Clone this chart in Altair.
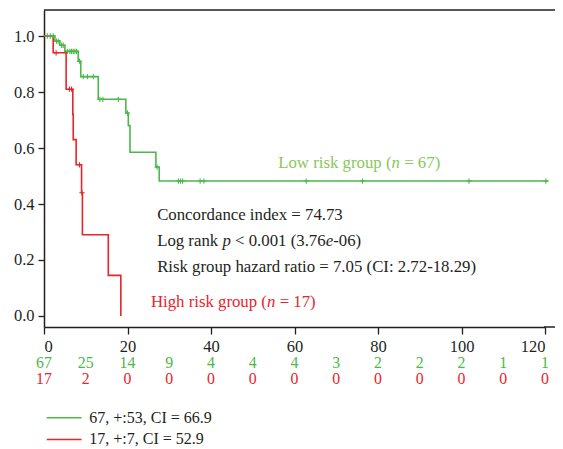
import altair as alt
import pandas as pd

# ---------------- data ----------------
# Kaplan-Meier step points: low risk group (green)
low_time = [0, 2.6, 3.8, 5.0, 8.2, 8.8, 13.0, 19.6, 20.2, 20.6, 26.8, 27.6, 120.8]
low_surv = [1.0, 0.982, 0.967, 0.945, 0.91, 0.855, 0.774, 0.725, 0.68, 0.585, 0.532, 0.482, 0.482]
# high risk group (red)
high_time = [0, 2.2, 5.3, 6.9, 7.0, 7.7, 9.0, 9.2, 15.4, 18.4]
high_surv = [1.0, 0.94, 0.81, 0.72, 0.63, 0.54, 0.44, 0.29, 0.145, 0.0]

# censoring marks (+)
low_cens_time = [0.8, 1.5, 2.2, 3.0, 3.4, 4.2, 4.6, 5.6, 6.2, 6.6, 7.0, 7.4, 7.8, 8.5,
                 9.4, 10.4, 11.8, 13.4, 14.1, 17.8, 20.0, 27.1,
                 32.2, 32.7, 33.2, 37.4, 38.3, 62.8, 76.3, 101.8, 120.2]
low_cens_surv = [1.0, 1.0, 1.0, 0.982, 0.982, 0.967, 0.967, 0.945, 0.945, 0.945, 0.945, 0.945, 0.945, 0.91,
                 0.855, 0.855, 0.855, 0.774, 0.774, 0.774, 0.725, 0.532,
                 0.482, 0.482, 0.482, 0.482, 0.482, 0.482, 0.482, 0.482, 0.482]
high_cens_time = [2.9, 6.1, 6.6, 8.5, 9.1]
high_cens_surv = [0.94, 0.81, 0.81, 0.54, 0.44]

# numbers at risk
risk_times = [0, 10, 20, 30, 40, 50, 60, 70, 80, 90, 100, 110, 120]
low_at_risk = [67, 25, 14, 9, 4, 4, 4, 3, 2, 2, 2, 1, 1]
high_at_risk = [17, 2, 0, 0, 0, 0, 0, 0, 0, 0, 0, 0, 0]

x_ticks = [0, 20, 40, 60, 80, 100, 120]
y_ticks = [0.0, 0.2, 0.4, 0.6, 0.8, 1.0]

legend_labels = ["67, +:53, CI = 66.9", "17, +:7, CI = 52.9"]
stats_lines = ["Concordance index = 74.73", "Risk group hazard ratio = 7.05 (CI: 2.72-18.29)"]

# ---------------- styling ----------------
GREEN = "#4cb848"
LIGHT_GREEN = "#88c85a"
RED = "#e9242b"
INK = "#231f20"
FONT = "Liberation Serif"
FS = 16.8

W, H = 501, 317
EXT = 10  # frame lines run a little past the last tick
PX_PER_UNIT = 4.175
x_scale = alt.Scale(domain=[0, W / PX_PER_UNIT], nice=False, zero=False)
y_scale = alt.Scale(domain=[-0.0393, 1.0929], nice=False, zero=False)

curves = pd.DataFrame({
    "t": low_time + high_time,
    "s": low_surv + high_surv,
    "g": ["low"] * len(low_time) + ["high"] * len(high_time),
})
cens = pd.DataFrame({
    "t": low_cens_time + high_cens_time,
    "s": low_cens_surv + high_cens_surv,
    "g": ["low"] * len(low_cens_time) + ["high"] * len(high_cens_time),
})
color = alt.Color("g:N", scale=alt.Scale(domain=["low", "high"], range=[GREEN, RED]), legend=None)

base = alt.Chart(curves)

lines = base.mark_line(interpolate="step-after", strokeWidth=1.6).encode(
    x=alt.X("t:Q", scale=x_scale,
            axis=alt.Axis(title=None, values=x_ticks, grid=False, tickSize=7, labelPadding=4,
                          domainColor=INK, tickColor=INK, labelColor=INK, domainWidth=1.5,
                          tickWidth=1.3, labelFont=FONT, labelFontSize=16.5)),
    y=alt.Y("s:Q", scale=y_scale,
            axis=alt.Axis(title=None, values=y_ticks, format=".1f", grid=False, tickSize=6,
                          labelPadding=4, domainColor=INK, tickColor=INK, labelColor=INK,
                          domainWidth=1.5, tickWidth=1.3, labelFont=FONT, labelFontSize=16.5)),
    color=color,
    detail="g:N",
)

marks = alt.Chart(cens).mark_point(shape="M-1,0H1M0,-1V1", filled=False, size=28, strokeWidth=1.1,
                                   opacity=1).encode(
    x=alt.X("t:Q", scale=x_scale), y=alt.Y("s:Q", scale=y_scale), color=color)

frame_src = pd.DataFrame({"a": [0]})
top_border = alt.Chart(frame_src).mark_rule(color=INK, strokeWidth=1.5).encode(
    x=alt.value(0), x2=alt.value(W + EXT), y=alt.value(0))
bottom_ext = alt.Chart(frame_src).mark_rule(color=INK, strokeWidth=1.5).encode(
    x=alt.value(W - 1), x2=alt.value(W + EXT), y=alt.value(H))


def seg(text, t, s, dx=0, italic=False, col=INK, size=FS):
    return alt.Chart(pd.DataFrame({"t": [t], "s": [s], "txt": [text]})).mark_text(
        align="left", baseline="middle", dx=dx, font=FONT, fontSize=size, color=col,
        fontStyle="italic" if italic else "normal").encode(
        x=alt.X("t:Q", scale=x_scale), y=alt.Y("s:Q", scale=y_scale), text="txt:N")


k = FS / 1000.0
SP = 250  # width of a space (em/1000); leading spaces are dropped by SVG
annots = [
    # Low risk group (n = 67)
    seg("Low risk group (", 56.1, 0.546, 0, False, LIGHT_GREEN),
    seg("n", 56.1, 0.546, 6749 * k, True, LIGHT_GREEN),
    seg("= 67)", 56.1, 0.546, (7249 + SP) * k, False, LIGHT_GREEN),
    # stats
    seg(stats_lines[0], 27.1, 0.361),
    seg("Log rank", 27.1, 0.269, 0),
    seg("p", 27.1, 0.269, 3888 * k, True),
    seg("< 0.001 (3.76", 27.1, 0.269, (4388 + SP) * k),
    seg("e", 27.1, 0.269, 10035 * k, True),
    seg("-06)", 27.1, 0.269, 10479 * k),
    seg(stats_lines[1], 27.1, 0.176),
    # High risk group (n = 17)
    seg("High risk group (", 25.6, 0.051, 0, False, RED),
    seg("n", 25.6, 0.051, 6916 * k, True, RED),
    seg("= 17)", 25.6, 0.051, (7416 + SP) * k, False, RED),
]

risk_df = pd.DataFrame({
    "t": risk_times + risk_times,
    "n": [str(v) for v in low_at_risk] + [str(v) for v in high_at_risk],
    "row": [-0.169] * len(risk_times) + [-0.224] * len(risk_times),
    "g": ["low"] * len(risk_times) + ["high"] * len(risk_times),
})
risk_text = alt.Chart(risk_df).mark_text(align="center", baseline="middle", font=FONT,
                                         fontSize=15.8).encode(
    x=alt.X("t:Q", scale=x_scale), y=alt.Y("row:Q", scale=y_scale), text="n:N", color=color)

leg_df = pd.DataFrame({
    "t0": [0.65, 0.65], "t1": [9.0, 9.0], "tl": [10.85, 10.85],
    "row": [-0.363, -0.441], "lab": legend_labels, "g": ["low", "high"],
})
leg_lines = alt.Chart(leg_df).mark_rule(strokeWidth=1.5).encode(
    x=alt.X("t0:Q", scale=x_scale), x2="t1:Q", y=alt.Y("row:Q", scale=y_scale), color=color)
leg_text = alt.Chart(leg_df).mark_text(align="left", baseline="middle", font=FONT, fontSize=16,
                                       color=INK).encode(
    x=alt.X("tl:Q", scale=x_scale), y=alt.Y("row:Q", scale=y_scale), text="lab:N")

chart = alt.layer(top_border, bottom_ext, lines, marks, *annots, risk_text, leg_lines,
                  leg_text).properties(
    width=W, height=H,
    background="white",
    autosize=alt.AutoSizeParams(type="none"),
    padding={"left": 36, "top": 2, "right": EXT, "bottom": 122},
).configure_view(strokeWidth=0, stroke="transparent")

chart.save("out.html", embed_options={"renderer": "svg", "actions": False})
